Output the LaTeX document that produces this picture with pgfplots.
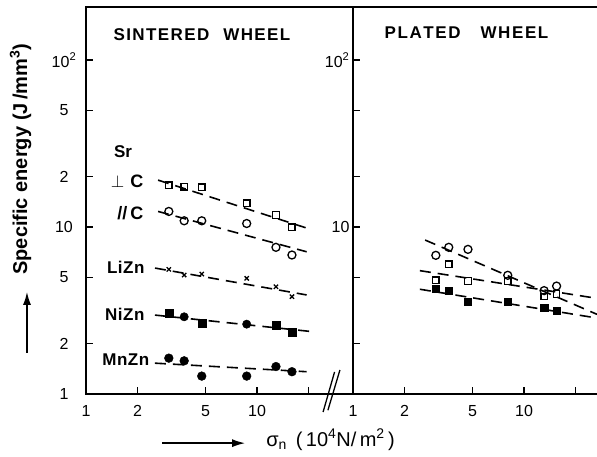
\documentclass[border=0pt]{standalone}
\usepackage{pgfplots}
\pgfplotsset{compat=1.18}
\usepackage{fontspec}
\setmainfont{Liberation Sans}
\usetikzlibrary{arrows.meta}
\begin{document}
\begin{tikzpicture}
% ---------------- left panel: sintered wheel ----------------
\begin{axis}[at={(86pt,63pt)}, anchor=south west,
  xmode=log, ymode=log, ymin=1, ymax=208,
  scale only axis, width=267pt, height=387pt, xmin=1, xmax=36.4,
  axis line style={line width=1.8pt},
  tick style={line width=1.2pt, black},
  major tick length=7pt,
  xtick={1,2,5,10,20},
  xticklabels={1,2,5,10,},
  ytick={1,2,5,10,20,50,100},
  yticklabels={1,2,5,10,2,5,10\textsuperscript{2}},
  ticklabel style={font=\fontsize{16}{16}\selectfont},
  xticklabel style={yshift=-8pt},
  yticklabel style={anchor=center, xshift=-22pt},
  xtick pos=left, ytick pos=left,
  clip=false]
 % Sr perpendicular C
 \addplot[black, only marks, mark=square, mark size=3.2pt, mark options={line width=1.3pt}] coordinates {(3.05,17.8) (3.75,17.4) (4.75,17.3) (8.7,13.9) (12.9,11.8) (16.0,9.96)};
 \addplot[black, no markers, dash pattern=on 11pt off 7pt, line width=1.6pt] coordinates {(2.64,19.1) (19.5,9.86)};
 % Sr parallel C
 \addplot[black, only marks, mark=o, mark size=4pt, mark options={line width=1.3pt}] coordinates {(3.05,12.4) (3.75,10.9) (4.75,10.9) (8.7,10.5) (12.9,7.56) (16.0,6.8)};
 \addplot[black, no markers, dash pattern=on 11pt off 7pt, line width=1.6pt] coordinates {(2.64,12.4) (19.5,7.11)};
 % LiZn
 \addplot[black, only marks, mark=x, mark size=3pt, mark options={line width=1.3pt}] coordinates {(3.05,5.58) (3.75,5.16) (4.75,5.23) (8.7,4.93) (12.9,4.39) (16.0,3.83)};
 \addplot[black, no markers, dash pattern=on 11pt off 7pt, line width=1.6pt] coordinates {(2.53,5.68) (19.5,3.92)};
 % NiZn
 \addplot[black, only marks, mark=square*, mark size=4pt] coordinates {(3.05,3.04) (4.75,2.67) (12.9,2.59) (16.0,2.33)};
 \addplot[black, only marks, mark=*, mark size=4.2pt] coordinates {(3.75,2.90) (8.7,2.62)};
 \addplot[black, no markers, dash pattern=on 11pt off 7pt, line width=1.6pt] coordinates {(2.53,2.97) (21.3,2.36)};
 % MnZn
 \addplot[black, only marks, mark=*, mark size=4.4pt] coordinates {(3.05,1.64) (3.75,1.58) (4.75,1.28) (8.7,1.28) (12.9,1.46) (16.0,1.36)};
 \addplot[black, no markers, dash pattern=on 11pt off 7pt, line width=1.6pt] coordinates {(2.53,1.53) (19.5,1.36)};
 % titles and labels
 \node[anchor=west, font=\bfseries\fontsize{17}{17}\selectfont] at (rel axis cs:0.090,0.928) {S\kern1.4pt I\kern1.4pt N\kern1.4pt T\kern1.4pt E\kern1.4pt R\kern1.4pt E\kern1.4pt D\hspace{14pt}W\kern1.4pt H\kern1.4pt E\kern1.4pt E\kern1.4pt L};
 \node[anchor=west, font=\bfseries\fontsize{17}{17}\selectfont] at (rel axis cs:0.092,0.625) {Sr};
 \node[anchor=east, font=\bfseries\fontsize{18}{18}\selectfont] at (rel axis cs:0.228,0.550) {$\perp$\hspace{6pt}C};
 \node[anchor=east, font=\bfseries\fontsize{18}{18}\selectfont] at (rel axis cs:0.228,0.468) {//\hspace{3pt}C};
 \node[anchor=east, font=\bfseries\fontsize{17}{17}\selectfont] at (rel axis cs:0.232,0.328) {L\kern0.5pt i\kern0.5pt Z\kern0.5pt n};
 \node[anchor=east, font=\bfseries\fontsize{17}{17}\selectfont] at (rel axis cs:0.232,0.207) {N\kern0.5pt i\kern0.5pt Z\kern0.5pt n};
 \node[anchor=east, font=\bfseries\fontsize{17}{17}\selectfont] at (rel axis cs:0.250,0.088) {M\kern0.5pt n\kern0.5pt Z\kern0.5pt n};
 % axis labels
 \node[rotate=90, font=\bfseries\fontsize{20}{20}\selectfont] at (rel axis cs:-0.245,0.607) {Specific energy\hspace{6pt}(J\,/mm\textsuperscript{3})};
 \draw[line width=1.6pt, -{Latex[length=13pt,width=8pt]}] (rel axis cs:-0.221,0.106) -- (rel axis cs:-0.221,0.264);
 \draw[line width=1.6pt, -{Latex[length=13pt,width=8pt]}] (rel axis cs:0.285,-0.127) -- (rel axis cs:0.596,-0.127);
 \node[anchor=west, font=\fontsize{20}{20}\selectfont] at (rel axis cs:0.662,-0.118) {σ\textsubscript{n}\hspace{9pt}(\,10\textsuperscript{4}N/\,m\textsuperscript{2}\,)};
 % axis break
 \draw[line width=1.3pt] (rel axis cs:0.888,-0.0465) -- (rel axis cs:0.931,0.057);
 \draw[line width=1.3pt] (rel axis cs:0.906,-0.0420) -- (rel axis cs:0.951,0.062);
\end{axis}
% ---------------- right panel: plated wheel ----------------
\begin{axis}[at={(353pt,63pt)}, anchor=south west,
  xmode=log, ymode=log, ymin=1, ymax=208,
  scale only axis, width=244pt, height=387pt, xmin=1, xmax=26.7,
  axis line style={line width=1.8pt},
  tick style={line width=1.2pt, black},
  major tick length=7pt,
  axis x line*=box, axis y line*=left,
  xtick={1,2,5,10,20},
  xticklabels={1,2,5,10,},
  ytick={2,5,10,20,50,100},
  yticklabels={,,10,,,10\textsuperscript{2}},
  ticklabel style={font=\fontsize{16}{16}\selectfont},
  xticklabel style={yshift=-8pt},
  xtick pos=left, ytick pos=left]
 \addplot[black, only marks, mark=o, mark size=4pt, mark options={line width=1.3pt}] coordinates {(3.05,6.77) (3.63,7.56) (4.70,7.35) (8.03,5.14) (13.1,4.16) (15.5,4.43)};
 \addplot[black, no markers, dash pattern=on 11pt off 7pt, line width=1.6pt] coordinates {(2.64,8.36) (26.7,3.0)};
 \addplot[black, only marks, mark=square, mark size=3.2pt, mark options={line width=1.3pt}] coordinates {(3.05,4.81) (3.63,5.98) (4.70,4.75) (8.03,4.75) (13.1,3.83) (15.5,3.97)};
 \addplot[black, no markers, dash pattern=on 11pt off 7pt, line width=1.6pt] coordinates {(2.46,5.48) (26.7,3.74)};
 \addplot[black, only marks, mark=square*, mark size=3.6pt] coordinates {(3.05,4.27) (3.63,4.14) (4.70,3.57) (8.03,3.57) (13.1,3.29) (15.5,3.15)};
 \addplot[black, no markers, dash pattern=on 11pt off 7pt, line width=1.6pt] coordinates {(2.46,4.24) (26.7,2.85)};
 \node[anchor=west, font=\bfseries\fontsize{17}{17}\selectfont] at (rel axis cs:0.115,0.933) {P\kern1.6pt L\kern1.6pt A\kern1.6pt T\kern1.6pt E\kern1.6pt D\hspace{20pt}W\kern1.6pt H\kern1.6pt E\kern1.6pt E\kern1.6pt L};
\end{axis}
\pgfresetboundingbox
\useasboundingbox (0,0) rectangle (597pt,457pt);
\end{tikzpicture}
\end{document}
